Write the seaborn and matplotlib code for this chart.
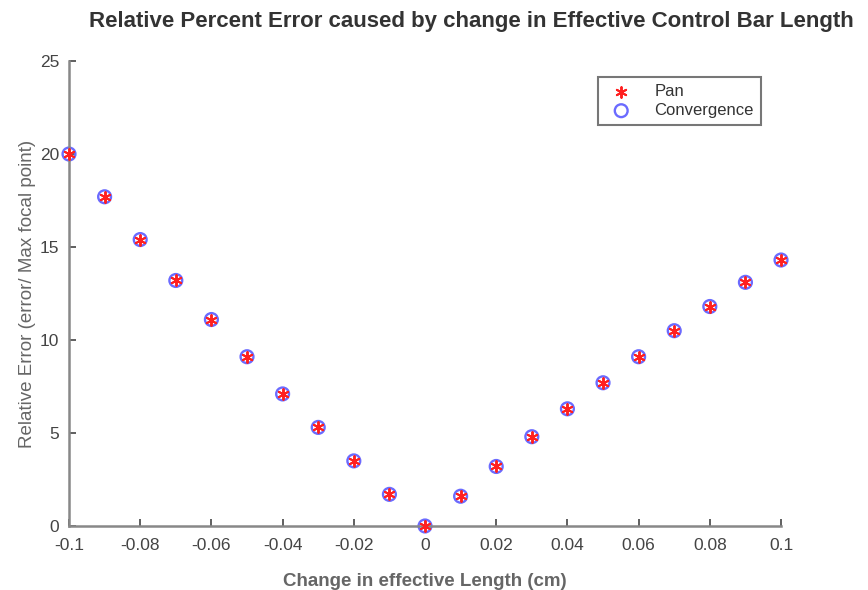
import numpy as np
import pandas as pd
import seaborn as sns
import matplotlib
matplotlib.use("Agg")
import matplotlib.pyplot as plt

# change in effective length (cm) and relative error (%)
dl = [-0.1, -0.09, -0.08, -0.07, -0.06, -0.05, -0.04, -0.03, -0.02, -0.01, 0.0,
      0.01, 0.02, 0.03, 0.04, 0.05, 0.06, 0.07, 0.08, 0.09, 0.1]
pan_err = [20.0, 17.7, 15.4, 13.2, 11.1, 9.1, 7.1, 5.3, 3.5, 1.7, 0.0,
           1.6, 3.2, 4.8, 6.3, 7.7, 9.1, 10.5, 11.8, 13.1, 14.3]
conv_err = [20.0, 17.7, 15.4, 13.2, 11.1, 9.1, 7.1, 5.3, 3.5, 1.7, 0.0,
            1.6, 3.2, 4.8, 6.3, 7.7, 9.1, 10.5, 11.8, 13.1, 14.3]
xticks = [-0.1, -0.08, -0.06, -0.04, -0.02, 0, 0.02, 0.04, 0.06, 0.08, 0.1]
xtick_labels = ["-0.1", "-0.08", "-0.06", "-0.04", "-0.02", "0",
                "0.02", "0.04", "0.06", "0.08", "0.1"]
yticks = [0, 5, 10, 15, 20, 25]

sns.set_style("ticks")
plt.rcParams['font.family'] = ['Liberation Sans', 'DejaVu Sans']

fig = plt.figure(figsize=(8.68, 5.9), dpi=100)
ax = fig.add_axes([0.0795, 0.1085, 0.8203, 0.7881])

sns.scatterplot(x=dl, y=conv_err, ax=ax, marker='o', s=85, facecolor='none',
                edgecolor='#6b6bff', linewidth=1.7, label='Convergence',
                zorder=2, clip_on=False)
sns.scatterplot(x=dl, y=pan_err, ax=ax, marker=(6, 2, 0), s=60,
                color='#ff2020', linewidth=1.4, label='Pan', zorder=3,
                clip_on=False)

ax.set_xlim(-0.1, 0.1)
ax.set_ylim(0, 25)
ax.set_xticks(xticks)
ax.set_xticklabels(xtick_labels)
ax.set_yticks(yticks)
ax.tick_params(direction='in', colors='#444444', labelsize=12.5, length=5, width=1.2)
ax.tick_params(axis='x', pad=9)
ax.tick_params(axis='y', pad=7)
for s in ['left', 'bottom']:
    ax.spines[s].set_color('#888888')
    ax.spines[s].set_linewidth(1.8)
sns.despine(ax=ax)

ax.set_xlabel('Change in effective Length (cm)', fontsize=13.5, fontweight='bold',
              color='#666666', labelpad=14)
ax.set_ylabel('Relative Error (error/ Max focal point)', fontsize=13.5,
              color='#666666', labelpad=3)
fig.text(0.543, 0.963, 'Relative Percent Error caused by change in Effective Control Bar Length',
         ha='center', va='center', fontsize=16, fontweight='bold', color='#333333')

handles, labels = ax.get_legend_handles_labels()
order = [labels.index('Pan'), labels.index('Convergence')]
leg = ax.legend([handles[i] for i in order], [labels[i] for i in order],
                loc='upper right', bbox_to_anchor=(0.983, 0.983), frameon=True,
                fancybox=False, edgecolor='#555555', fontsize=12,
                borderpad=0.4, handletextpad=1.0, labelspacing=0.25)
leg.get_frame().set_linewidth(1.5)
for t in leg.get_texts():
    t.set_color('#333333')

fig.savefig('out.png', dpi=100)
